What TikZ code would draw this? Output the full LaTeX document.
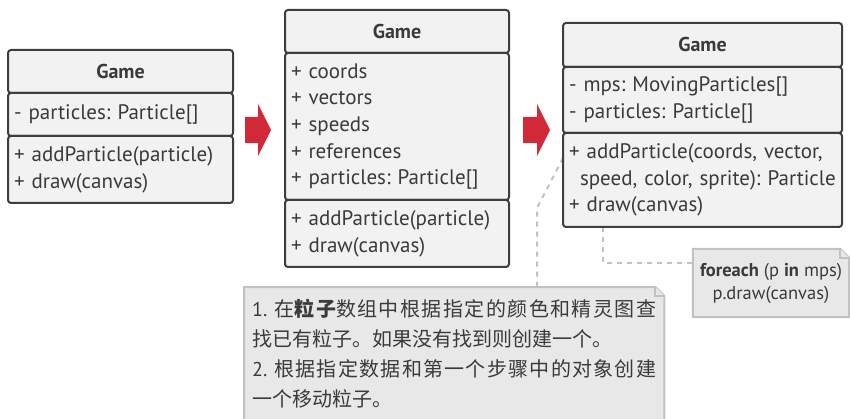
\documentclass[tikz,border=0pt]{standalone}
\usepackage{fontspec}
\setmainfont{PT Sans}
\newfontfamily\cjk{Noto Sans CJK SC}
\usetikzlibrary{positioning,backgrounds}
\definecolor{boxfill}{RGB}{242,242,242}
\definecolor{boxline}{RGB}{62,62,62}
\definecolor{inktext}{RGB}{58,58,58}
\definecolor{notefill}{RGB}{232,232,232}
\definecolor{noteline}{RGB}{194,194,194}
\definecolor{arrowred}{RGB}{209,41,56}
\frenchspacing
\XeTeXlinebreaklocale "zh"
\XeTeXlinebreakskip=0pt plus 2pt

\begin{document}
\begin{tikzpicture}[
    x=1pt, y=-1pt,
    part/.style={rectangle, draw=boxline, line width=2pt, rounded corners=3pt, fill=boxfill, outer sep=0pt, inner xsep=6pt, inner ysep=0pt, text width=#1, align=left, text=inktext, font=\fontsize{21}{26.7}\selectfont},
    head/.style={part=#1, align=center, font=\fontsize{20}{26.7}\selectfont\bfseries},
    notetext/.style={inner xsep=8pt, inner ysep=12pt, align=justify, text=inktext},
    noteedge/.style={fill=notefill, draw=noteline, line width=2pt},
    dashline/.style={draw=noteline, line width=2pt, dash pattern=on 5pt off 5pt},
    redarrow/.style={fill=arrowred}
]
    \useasboundingbox (0,0) rectangle (850,419);
    \clip (0,0) rectangle (850,419);

    \node[head=213, minimum height=43, anchor=north west] (g1) at (8,50) {Game};
    \node[part=213, minimum height=43, below=0pt of g1] (g1a) {- particles: Particle[]};
    \node[part=213, minimum height=67, below=0pt of g1a] (g1m) {+ addParticle(particle)\\+ draw(canvas)};

    \node[head=212, minimum height=43, anchor=north west] (g2) at (285,10) {Game};
    \node[part=212, minimum height=147, below=0pt of g2] (g2a) {+ coords\\+ vectors\\+ speeds\\+ references\\+ particles: Particle[]};
    \node[part=212, minimum height=67, below=0pt of g2a] (g2m) {+ addParticle(particle)\\+ draw(canvas)};

    \node[head=267, minimum height=44, anchor=north west] (g3) at (563,23) {Game};
    \node[part=267, minimum height=66, below=0pt of g3] (g3a) {- mps: MovingParticles[]\\- particles: Particle[]};
    \node[part=267, minimum height=94, below=0pt of g3a] (g3m) {+ addParticle(coords, vector,\\\hspace*{11pt}speed, color, sprite): Particle\\+ draw(canvas)};

    \fill[redarrow] (245,117) -- (258,117) -- (258,104) -- (271,130) -- (258,156) -- (258,143) -- (245,143) -- cycle;
    \fill[redarrow] (523,117) -- (537,117) -- (537,104) -- (550,130) -- (537,156) -- (537,143) -- (523,143) -- cycle;

    \node[notetext, text width=404, anchor=north west, font=\fontsize{20}{30}\selectfont] (n1) at (244,287)
        {1. {\cjk 在\textbf{粒子}数组中根据指定的颜色和精灵图查\linebreak 找已有粒子。如果没有找到则创建一个。}\par
         2. {\cjk 根据指定数据和第一个步骤中的对象创建\linebreak 一个移动粒子。}};
    \node[inner sep=0pt, minimum width=156, minimum height=68, align=center, text=inktext, font=\fontsize{18.5}{23}\selectfont] (n2) at (771,283)
        {\textbf{foreach} (p \textbf{in} mps)\\p.draw(canvas)};

    \coordinate (k1) at (537,208);
    \coordinate (k2) at (603,263);

    \begin{scope}[on background layer]
        \draw[noteedge] (n1.north west) -- ([xshift=-9pt]n1.north east) -- ([yshift=-9pt]n1.north east) -- (n1.north east |- 0,440) -- (n1.north west |- 0,440) -- cycle;
        \draw[noteedge] ([xshift=-9pt]n1.north east) |- ([yshift=-9pt]n1.north east);
        \draw[noteedge] (n2.north west) -- ([xshift=-9pt]n2.north east) -- ([yshift=-9pt]n2.north east) -- (n2.south east) -- (n2.south west) -- cycle;
        \draw[noteedge] ([xshift=-9pt]n2.north east) |- ([yshift=-9pt]n2.north east);
        \draw[dashline] ([yshift=22pt]g3m.west) -- (k1) -- (k1 |- n1.north);
        \draw[dashline] (k2 |- g3m.south) -- (k2) -- (k2 -| n2.west);
    \end{scope}
\end{tikzpicture}
\end{document}
